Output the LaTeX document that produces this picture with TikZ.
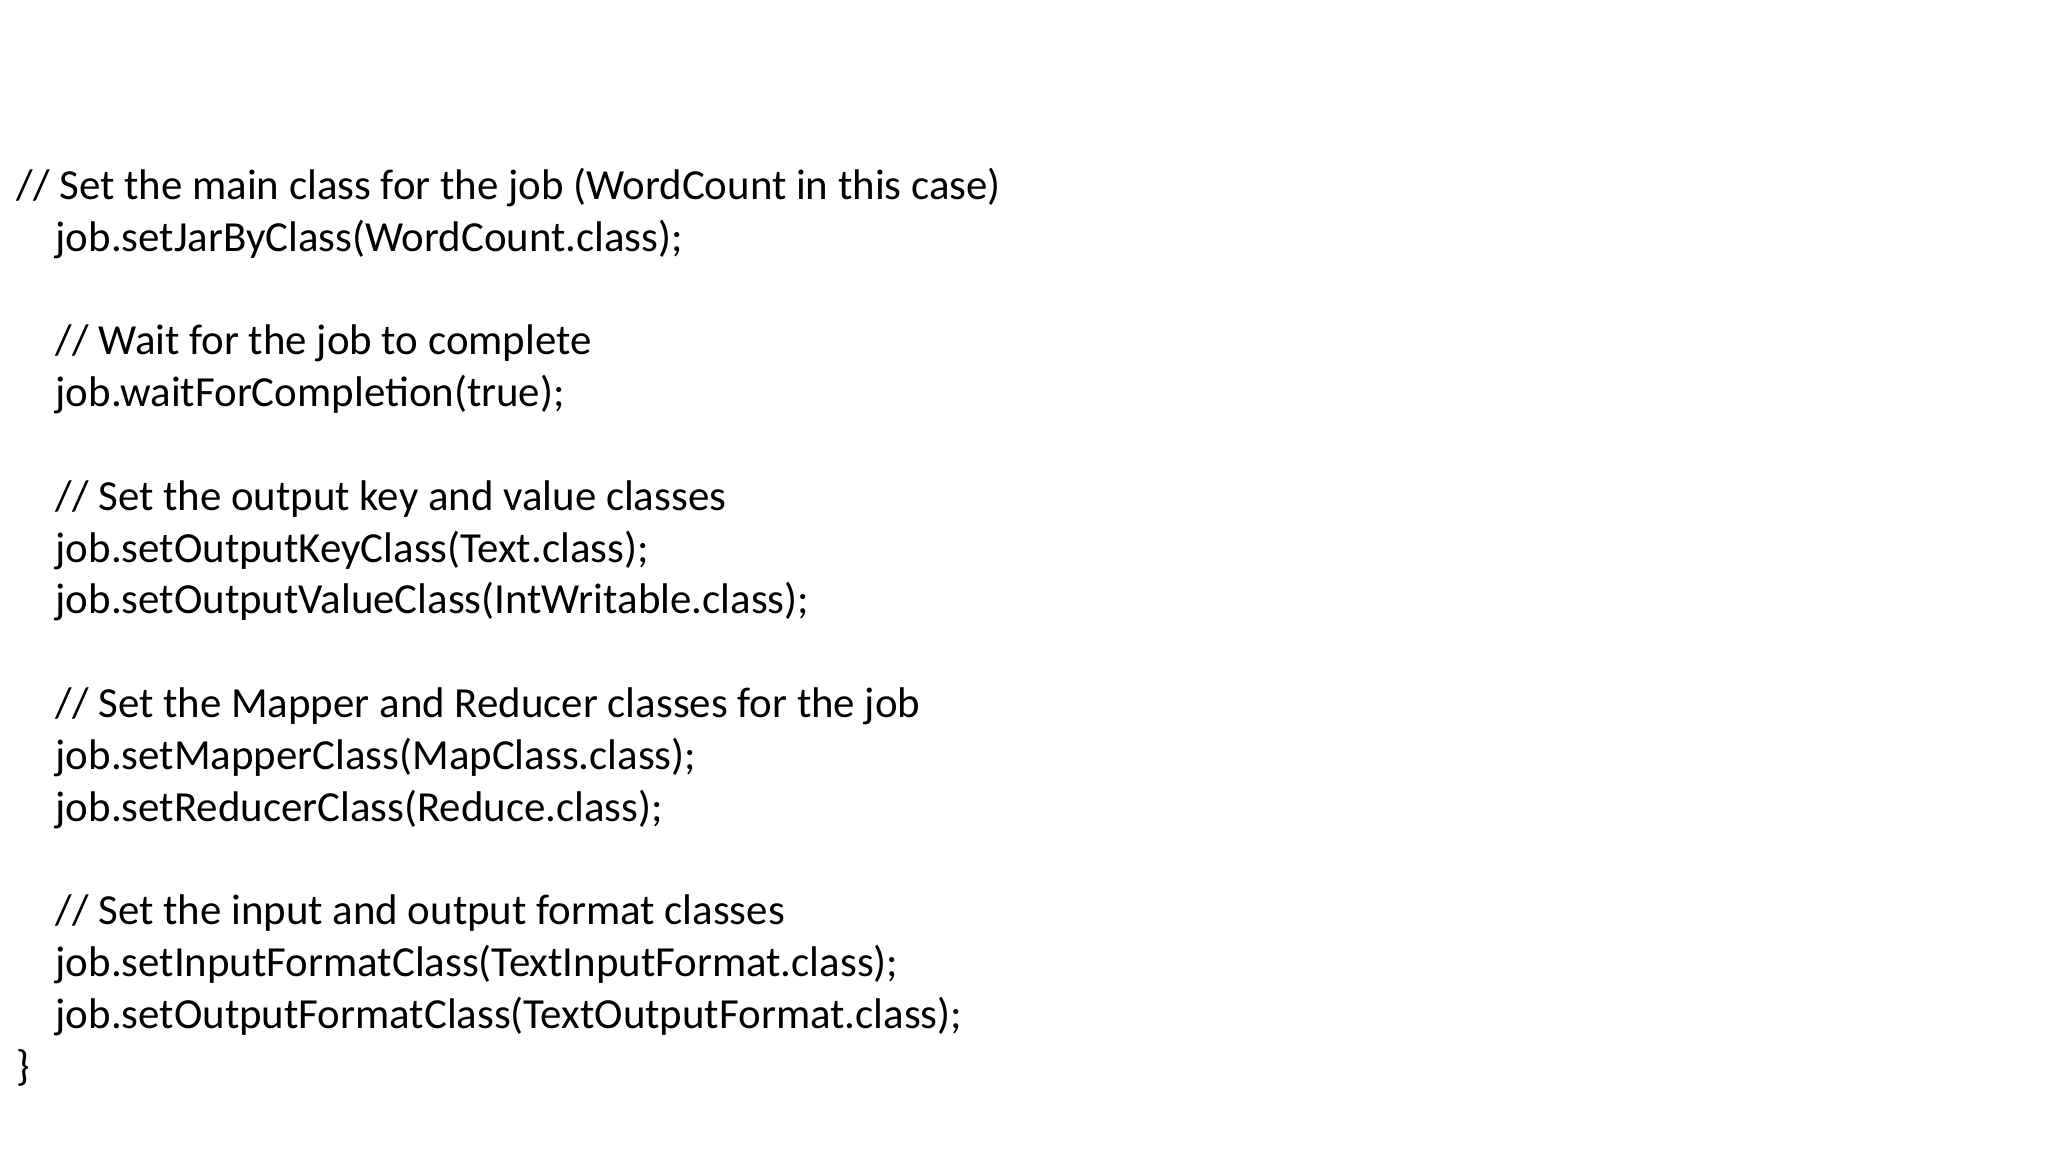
\documentclass[tikz,border=0pt]{standalone}
\usepackage{fontspec}
\setmainfont{Carlito}
\begin{document}
\begin{tikzpicture}[x=1cm,y=1cm,line/.style={anchor=base west,inner sep=0pt,font=\fontsize{12.2pt}{14pt}\selectfont}]
\useasboundingbox (0,0) rectangle (20.48,11.52);
\def\by#1{11.52-1.995-0.518*#1}
\node[line] (l0) at (0.16,{\by{0}}) {// Set the main class for the job (WordCount in this case)};
\node[line] (l1) at (0.55,{\by{1}}) {job.setJarByClass(WordCount.class);};
\node[line] (l3) at (0.55,{\by{3}}) {// Wait for the job to complete};
\node[line] (l4) at (0.55,{\by{4}}) {job.waitForCompletion(true);};
\node[line] (l6) at (0.55,{\by{6}}) {// Set the output key and value classes};
\node[line] (l7) at (0.55,{\by{7}}) {job.setOutputKeyClass(Text.class);};
\node[line] (l8) at (0.55,{\by{8}}) {job.setOutputValueClass(IntWritable.class);};
\node[line] (l10) at (0.55,{\by{10}}) {// Set the Mapper and Reducer classes for the job};
\node[line] (l11) at (0.55,{\by{11}}) {job.setMapperClass(MapClass.class);};
\node[line] (l12) at (0.55,{\by{12}}) {job.setReducerClass(Reduce.class);};
\node[line] (l14) at (0.55,{\by{14}}) {// Set the input and output format classes};
\node[line] (l15) at (0.55,{\by{15}}) {job.setInputFormatClass(TextInputFormat.class);};
\node[line] (l16) at (0.55,{\by{16}}) {job.setOutputFormatClass(TextOutputFormat.class);};
\node[line] (l17) at (0.16,{\by{17}}) {\}};
\end{tikzpicture}
\end{document}
